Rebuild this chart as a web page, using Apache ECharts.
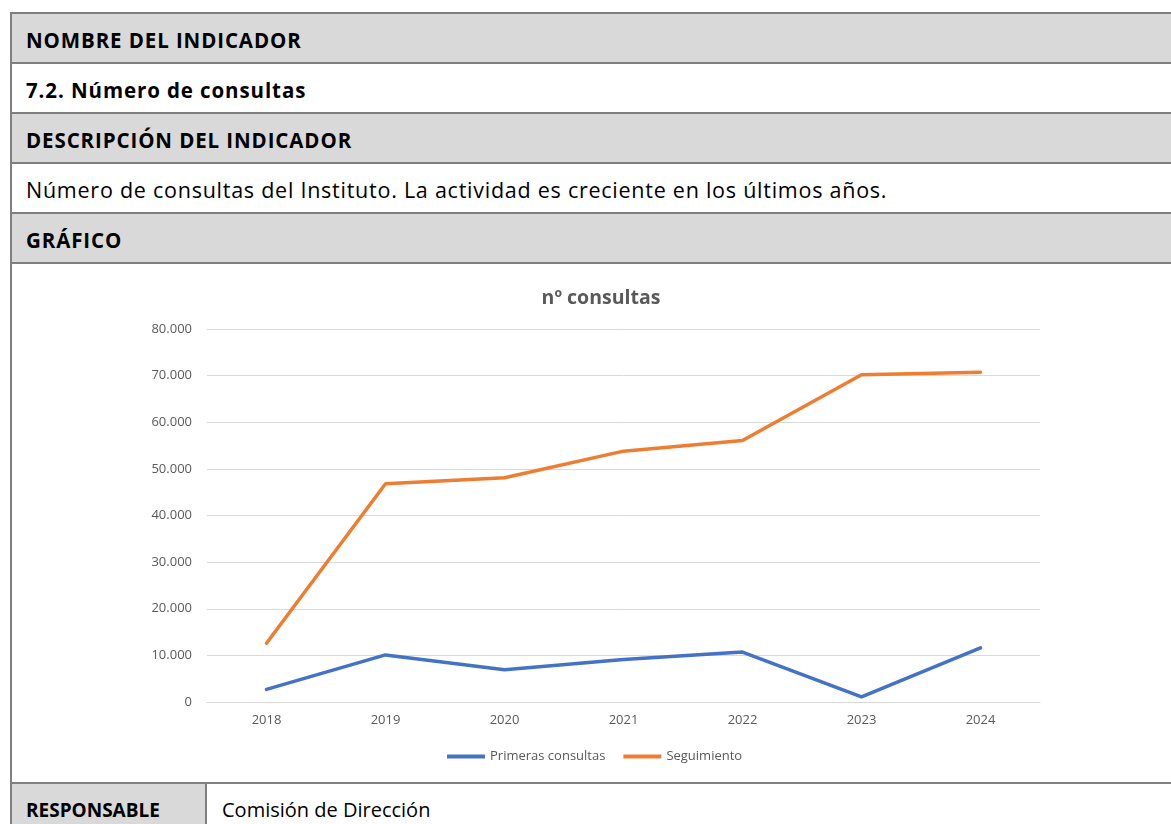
<!DOCTYPE html>
<html>
<head>
<meta charset="utf-8">
<script src="https://cdn.jsdelivr.net/npm/echarts@6/dist/echarts.min.js"></script>
<style>
  body { margin: 0; width: 1171px; height: 824px; overflow: hidden; background: #fff; position: relative; font-family: 'Open Sans', sans-serif; }
  .row { position: absolute; left: 10px; width: 1170px; height: 50px; box-sizing: border-box; border-top: 2px solid #7f7f7f; border-left: 2px solid #7f7f7f; padding-left: 14px; line-height: 52px; font-size: 21px; letter-spacing: 0.3px; color: #000; white-space: nowrap; }
  .grey { background: #d9d9d9; }
  .b { font-weight: bold; font-size: 20.5px; letter-spacing: 0.9px; }
  .t { font-size: 21.5px; letter-spacing: 0.75px; }
  .cell { position: absolute; top: 0; bottom: 0; }
  #chart { position: absolute; left: 0; top: 0; width: 1171px; height: 824px; }
</style>
</head>
<body>
<div class="row grey b" style="top:12px">NOMBRE DEL INDICADOR</div>
<div class="row b" style="top:62px">7.2. Número de consultas</div>
<div class="row grey b" style="top:112px">DESCRIPCIÓN DEL INDICADOR</div>
<div class="row t" style="top:162px">Número de consultas del Instituto. La actividad es creciente en los últimos años.</div>
<div class="row grey b" style="top:212px">GRÁFICO</div>
<div class="row" style="top:262px;height:520px"></div>
<div class="row" style="top:782px;padding-left:0">
  <div class="cell grey b" style="left:0;width:195px;padding-left:14px;border-right:2px solid #7f7f7f;box-sizing:border-box;font-size:19px;letter-spacing:0">RESPONSABLE</div>
  <div class="cell" style="left:210px;font-size:20px;letter-spacing:0">Comisión de Dirección</div>
</div>
<div id="chart"></div>
<script>
const years = ['2018', '2019', '2020', '2021', '2022', '2023', '2024']
const primeras = [2700, 10100, 6900, 9100, 10700, 1100, 11600]
const seguimiento = [12600, 46800, 48100, 53800, 56100, 70200, 70700]
const seriesNames = ['Primeras consultas', 'Seguimiento']
const chartTitle = 'nº consultas'

const chart = echarts.init(document.getElementById('chart'))

function formatThousands(value) {
  return String(value).replace(/\B(?=(\d{3})+(?!\d))/g, '.')
}

chart.setOption({
  animation: false,
  textStyle: { fontFamily: 'Open Sans' },
  title: {
    text: chartTitle,
    left: 596,
    top: 283,
    textAlign: 'center',
    textStyle: { color: '#595959', fontSize: 19.5, fontWeight: 'bold', fontFamily: 'Open Sans' },
  },
  legend: {
    data: seriesNames,
    top: 745,
    left: 442,
    icon: 'rect',
    itemWidth: 38,
    itemHeight: 4,
    itemGap: 18,
    textStyle: { color: '#595959', fontSize: 13, fontFamily: 'Open Sans' },
  },
  grid: { left: 207, right: 131, top: 329, bottom: 122 },
  xAxis: {
    type: 'category',
    data: years,
    boundaryGap: true,
    axisLine: { lineStyle: { color: '#d9d9d9', width: 1 } },
    axisTick: { show: false },
    axisLabel: { color: '#595959', fontSize: 13, margin: 12, fontFamily: 'Open Sans' },
  },
  yAxis: {
    type: 'value',
    min: 0,
    max: 80000,
    interval: 10000,
    axisLine: { show: false },
    axisTick: { show: false },
    splitLine: { lineStyle: { color: '#d9d9d9', width: 1 } },
    axisLabel: { color: '#595959', fontSize: 13, margin: 15, fontFamily: 'Open Sans', formatter: formatThousands },
  },
  series: [
    {
      name: seriesNames[0],
      type: 'line',
      data: primeras,
      showSymbol: false,
      lineStyle: { color: '#4472c4', width: 3.5, cap: 'round' },
      itemStyle: { color: '#4472c4' },
    },
    {
      name: seriesNames[1],
      type: 'line',
      data: seguimiento,
      showSymbol: false,
      lineStyle: { color: '#ed7d31', width: 3.5, cap: 'round' },
      itemStyle: { color: '#ed7d31' },
    },
  ],
})
</script>
</body>
</html>
